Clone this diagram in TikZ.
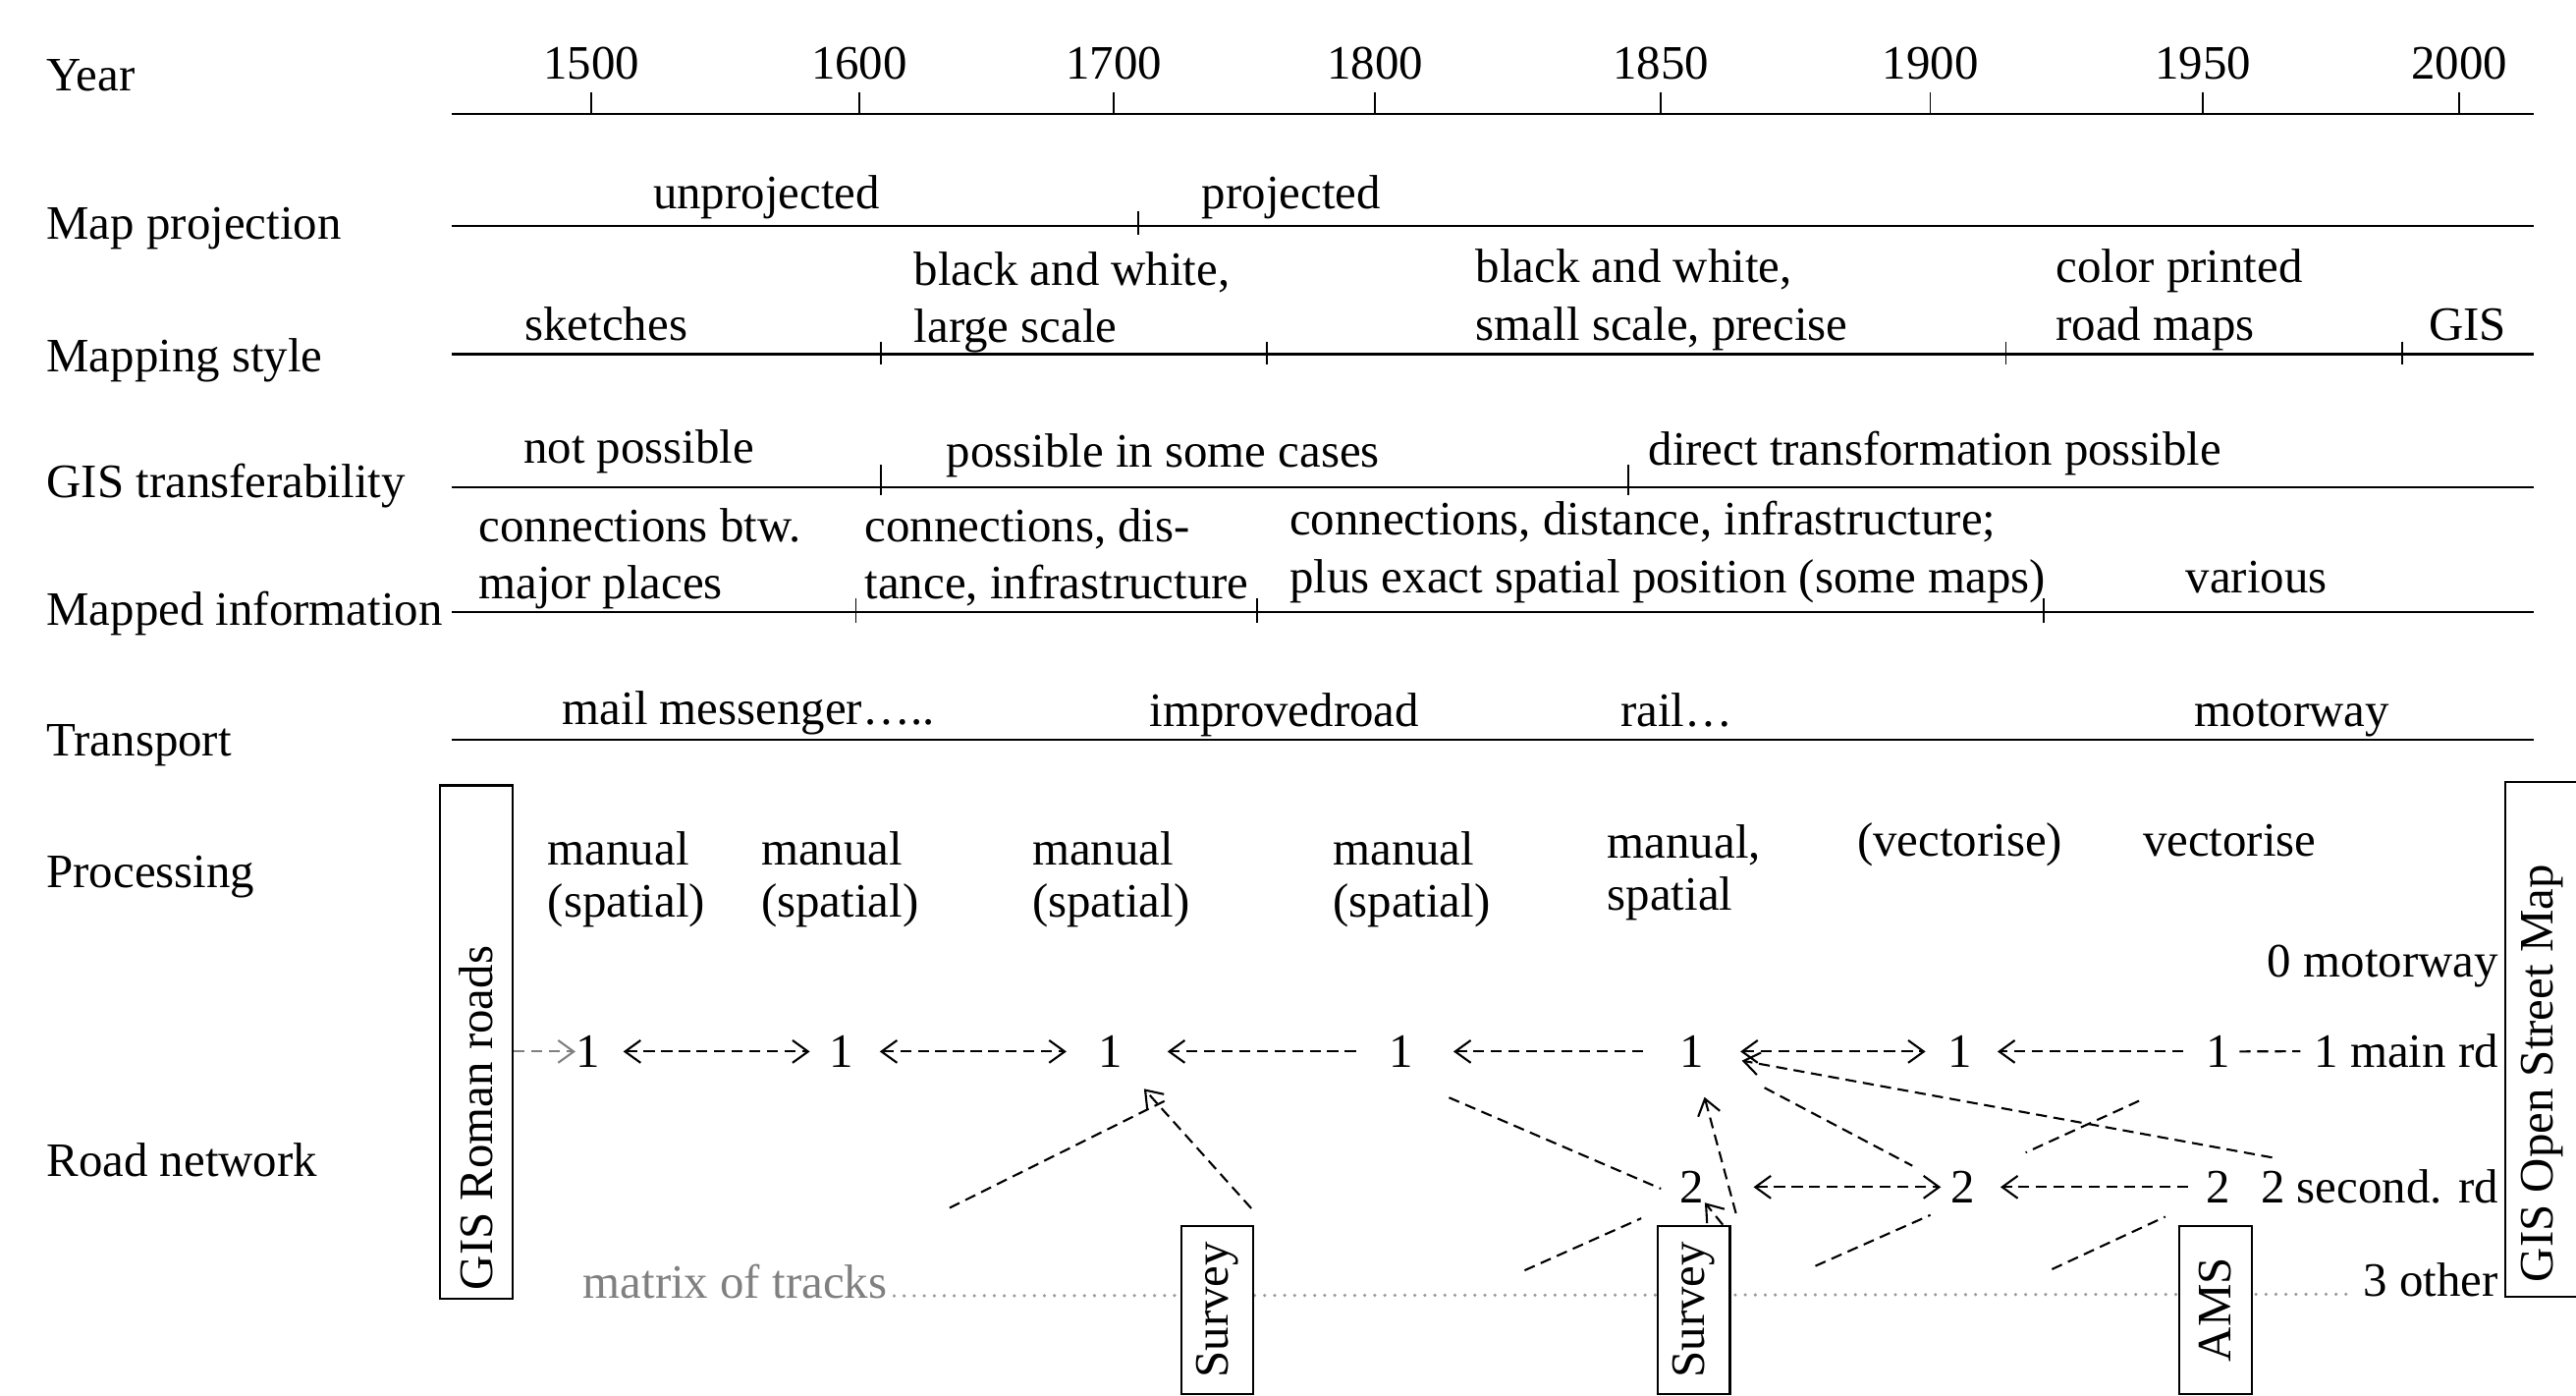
\documentclass[tikz,border=0pt]{standalone}
\usepackage{fontspec}
\setmainfont{Liberation Serif}
\usepackage{graphicx}
\usetikzlibrary{arrows.meta, positioning, calc}
\tikzset{
    rowlabel/.style = {anchor=base west, inner sep=0pt},
    yearlbl/.style = {anchor=base, inner sep=0pt},
    era/.style = {anchor=base west, inner sep=0pt, align=left},
    erac/.style = {anchor=base, inner sep=0pt},
    proc/.style = {anchor=base west, inner sep=0pt, align=left, font=\fontsize{13.9}{15.2}\selectfont},
    rowline/.style = {line width=0.7pt},
    tickmark/.style = {line width=0.5pt},
    digit/.style = {anchor=base, inner sep=0pt},
    legend/.style = {anchor=base east, inner sep=0pt},
    roadlink/.style = {line width=0.6pt, dash pattern=on 3.2pt off 1.9pt, >={Straight Barb[length=4.5pt,width=6.5pt]}},
    trackdots/.style = {gray!80, line width=1pt, line cap=round, dash pattern=on 0pt off 2.9pt},
    srcbox/.style = {draw, fill=white, line width=0.6pt, inner sep=0pt, minimum width=0.736cm, minimum height=1.71cm}
}

\begin{document}
\begin{tikzpicture}[x=0.01673cm, y=-0.01673cm, font=\fontsize{13.9}{16.6}\selectfont]
\useasboundingbox (0,0) rectangle (1568,849);

% time axis
\node[rowlabel] (lyear) at (28,55.5) {Year};
\draw[rowline] (275,69.4) -- (1542,69.4);
\foreach \yr/\x in {1500/360, 1600/523, 1700/678, 1800/837, 1850/1011, 1900/1175, 1950/1341, 2000/1497} {
    \node[yearlbl] (y\yr) at (\x,48) {\yr};
    \draw[tickmark] (\x,56) -- (\x,69.4);
}

% map projection
\node[rowlabel] (lproj) at (28,145.5) {Map projection};
\draw[rowline] (275,137.5) -- (1542,137.5);
\draw[tickmark] (693,128.5) -- (693,143);
\node[erac] (unproj) at (466.5,127) {unprojected};
\node[erac] (proj) at (786,127) {projected};

% mapping style (multi-line nodes sit on their last line)
\node[rowlabel] (lstyle) at (28,226) {Mapping style};
\draw[rowline] (275,215.6) -- (1542,215.6);
\foreach \x in {536, 771, 1221, 1462}
    \draw[tickmark] (\x,208) -- (\x,222);
\node[erac] (sketch) at (369,207) {sketches};
\node[era] (bwlarge) at (556,208.5) {black and white,\\large scale};
\node[era] (bwsmall) at (898,207) {black and white,\\small scale, precise};
\node[era] (color) at (1251,207) {color printed\\road maps};
\node[erac] (gis) at (1502,207) {GIS};

% GIS transferability
\node[rowlabel] (lgis) at (28,303) {GIS transferability};
\draw[rowline] (275,296.5) -- (1542,296.5);
\foreach \x in {536, 991}
    \draw[tickmark] (\x,283) -- (\x,301);
\node[erac] (notpos) at (389,282) {not possible};
\node[erac] (somepos) at (708,284) {possible in some cases};
\node[era] (direct) at (1003,283) {direct transformation possible};

% mapped information
\node[rowlabel] (linfo) at (28,380.6) {Mapped information};
\draw[rowline] (275,372.5) -- (1542,372.5);
\foreach \x in {521, 765, 1244}
    \draw[tickmark] (\x,364) -- (\x,379);
\node[era] (info1) at (291,364.6) {connections btw.\\major places};
\node[era] (info2) at (526,364.6) {connections, dis-\\tance, infrastructure};
\node[era] (info3) at (784.6,360.6) {connections, distance, infrastructure;\\plus exact spatial position (some maps)};
\node[erac] (info4) at (1373.5,360.6) {various};

% transport
\node[rowlabel] (ltrans) at (28,460) {Transport};
\draw[rowline] (275,450) -- (1542,450);
\node[era] (mail) at (342,440.6) {mail messenger…..};
\node[era] (improved) at (699.4,442) {improvedroad};
\node[era] (rail) at (986,442) {rail…};
\node[erac] (motor) at (1395,442) {motorway};

% processing
\node[rowlabel] (lproc) at (28,540) {Processing};
\node[proc] (p1) at (333,558) {manual\\(spatial)};
\node[proc] (p2) at (463,558) {manual\\(spatial)};
\node[proc] (p3) at (628,558) {manual\\(spatial)};
\node[proc] (p4) at (811,558) {manual\\(spatial)};
\node[proc] (p5) at (978,554) {manual,\\spatial};
\node[proc] (p6) at (1130,521) {(vectorise)};
\node[proc] (p7) at (1304,521) {vectorise};

% road network
\node[rowlabel] (lroad) at (28,716) {Road network};
\node[legend] (lg0) at (1521,594.7) {0 motorway};
\node[legend] (lg1) at (1521,649.5) {1 main rd};
\node[legend] (lg2) at (1521,732) {2 second. rd};
\node[legend] (lg3) at (1521,789) {3 other};

\foreach \n/\x in {1/358, 2/512, 3/676, 4/853, 5/1030, 6/1193, 7/1350}
    \node[digit] (a\n) at (\x,649.5) {1};
\foreach \n/\x in {5/1030, 6/1195, 7/1350}
    \node[digit] (b\n) at (\x,732) {2};

\node[text=gray, anchor=base west, inner sep=0pt] (mtx) at (354.5,790) {matrix of tracks};
\draw[trackdots] ($(mtx.base east)+(4,-1.5)$) -- ($(lg3.base west)+(-5,-1.5)$);

% sources
\node[srcbox, minimum width=0.736cm, minimum height=5.22cm] (roman) at (290,634)
    {\rotatebox{90}{\makebox[5.05cm][l]{GIS Roman roads}}};
\node[srcbox, minimum width=0.753cm, minimum height=5.24cm] (osm) at (1547.5,632.5)
    {\rotatebox{90}{\makebox[4.94cm][l]{GIS Open Street Map}}};
\node[srcbox] (s1) at (741,797) {\rotatebox{90}{Survey}};
\node[srcbox] (s2) at (1031,797) {\rotatebox{90}{Survey}};
\node[srcbox] (ams) at (1348.5,797) {\rotatebox{90}{AMS}};

% main roads
\draw[roadlink, gray, ->] (roman.east |- a1) -- (a1);
\draw[roadlink, <->, shorten <=6.5pt, shorten >=5.4pt] (a1) -- (a2);
\draw[roadlink, <->, shorten <=7.5pt, shorten >=9.1pt] (a2) -- (a3);
\draw[roadlink, ->, shorten <=9.5pt, shorten >=12.8pt] (a4) -- (a3);
\draw[roadlink, ->, shorten <=10.6pt, shorten >=11.4pt] (a5) -- (a4);
\draw[roadlink, <->, shorten <=10.3pt, shorten >=6.3pt] (a5) -- (a6);
\draw[roadlink, ->, shorten <=6.3pt, shorten >=7.2pt] (a7) -- (a6);
\draw[roadlink, shorten <=2.6pt, shorten >=3.8pt] (a7) -- (lg1);

% secondary roads
\draw[roadlink, <->, shorten <=14.1pt, shorten >=2.8pt] (b5) -- (b6);
\draw[roadlink, ->, shorten <=5pt, shorten >=7.1pt] (b7) -- (b6);

% links between levels
\draw[roadlink] ($(s1)+(-163,-62)$) -- ($(a3)+(35,29)$);
\draw[roadlink, ->, shorten >=9pt] ($(s1.north east)+(-2,-10)$) -- (a3);
\draw[roadlink] ($(a4)+(29,28)$) -- ($(b5)+(-19,1)$);
\draw[roadlink] ($(s2)+(-103,-24)$) -- ($(b5)+(-31,19)$);
\draw[roadlink, ->] ($(s2.north east)+(-5,0)$) -- (b5);
\draw[roadlink, ->, shorten >=8.7pt] ($(s2.north east)+(3,-7)$) -- (a5);
\draw[roadlink] ($(a5)+(44,22)$) -- ($(b6)+(-31,-13)$);
\draw[roadlink] ($(b6)+(-90,48)$) -- ($(b6)+(-20,17)$);
\draw[roadlink] ($(a7)+(-48,30)$) -- ($(b6)+(38,-21)$);
\draw[roadlink] ($(b7)+(-101,50)$) -- ($(b7)+(-32,18)$);
\draw[roadlink, ->, shorten >=10.9pt] ($(b7)+(33,-18)$) -- (a5);
\end{tikzpicture}
\end{document}
